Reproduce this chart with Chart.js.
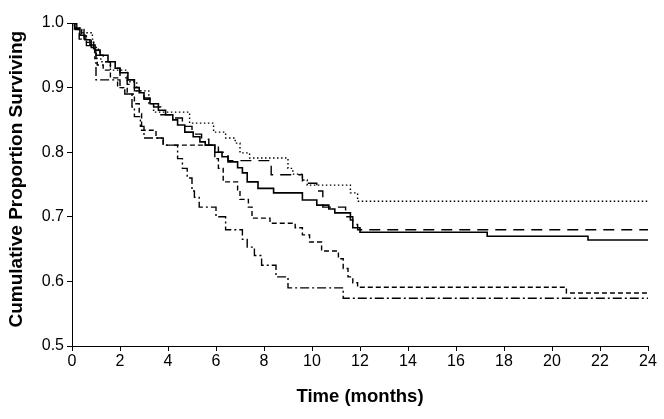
<!DOCTYPE html>
<html>
<head>
<meta charset="utf-8">
<script src="https://cdn.jsdelivr.net/npm/chart.js@4/dist/chart.umd.min.js"></script>
<style>
  body { margin: 0; background: #fff; }
</style>
</head>
<body>
<canvas id="myChart" width="664" height="419"></canvas>
<script>
// Kaplan-Meier curves (time in months, proportion surviving)
const solidTime = [0, 0.12, 0.33, 0.54, 0.75, 0.96, 1.17, 1.5, 1.8, 2.0, 2.33, 2.6, 2.8, 3.0, 3.25, 3.6, 3.9, 4.2, 4.4, 4.7, 5.05, 5.33, 5.55, 5.95, 6.25, 6.5, 6.9, 7.1, 7.3, 7.75, 8.4, 9.6, 10.2, 10.7, 10.95, 11.6, 11.7, 12.0, 17.3, 21.5, 24];
const solidSurv = [1, 0.992, 0.981, 0.974, 0.966, 0.958, 0.95, 0.94, 0.93, 0.923, 0.912, 0.9, 0.892, 0.884, 0.875, 0.865, 0.858, 0.85, 0.842, 0.831, 0.824, 0.816, 0.811, 0.8, 0.793, 0.785, 0.776, 0.768, 0.754, 0.744, 0.737, 0.726, 0.718, 0.712, 0.706, 0.695, 0.683, 0.676, 0.67, 0.664, 0.664];

const longDashTime = [0, 0.2, 0.5, 0.8, 1.0, 1.3, 1.6, 2.0, 2.3, 2.6, 3.0, 3.4, 3.7, 4.1, 4.6, 5.0, 5.4, 5.7, 6.1, 6.5, 8.3, 9.6, 10.2, 10.45, 11.4, 11.7, 11.9, 24];
const longDashSurv = [1, 0.99, 0.975, 0.962, 0.95, 0.94, 0.93, 0.915, 0.905, 0.895, 0.882, 0.87, 0.858, 0.853, 0.84, 0.828, 0.82, 0.811, 0.8, 0.787, 0.765, 0.752, 0.74, 0.715, 0.7, 0.688, 0.68, 0.68];

const dottedTime = [0, 0.1, 0.4, 0.85, 0.9, 1.1, 1.2, 1.6, 2.3, 2.7, 3.2, 3.4, 4.9, 5.9, 6.4, 6.8, 7.0, 7.4, 9.0, 9.2, 9.6, 9.8, 11.6, 11.9, 24];
const dottedSurv = [1, 0.992, 0.985, 0.975, 0.962, 0.955, 0.94, 0.927, 0.909, 0.895, 0.875, 0.862, 0.845, 0.831, 0.822, 0.814, 0.799, 0.791, 0.775, 0.766, 0.757, 0.749, 0.737, 0.724, 0.724];

const shortDashTime = [0, 0.15, 0.4, 0.6, 0.9, 0.95, 1.05, 1.3, 1.6, 1.9, 2.3, 2.6, 2.8, 2.9, 3.5, 3.8, 5.95, 6.1, 6.3, 6.9, 7.0, 7.35, 7.5, 8.25, 9.3, 9.6, 9.9, 10.4, 11.1, 11.3, 11.5, 11.7, 11.9, 20.6, 24];
const shortDashSurv = [1, 0.99, 0.98, 0.97, 0.96, 0.945, 0.935, 0.927, 0.915, 0.9, 0.89, 0.875, 0.86, 0.834, 0.822, 0.811, 0.79, 0.775, 0.754, 0.74, 0.727, 0.715, 0.698, 0.69, 0.683, 0.672, 0.661, 0.647, 0.635, 0.62, 0.607, 0.598, 0.591, 0.582, 0.582];

const dashDotTime = [0, 0.1, 0.3, 0.6, 0.9, 1.0, 2.0, 2.2, 2.5, 2.6, 2.85, 3.0, 3.8, 4.4, 4.6, 4.8, 5.0, 5.1, 5.3, 6.0, 6.4, 7.1, 7.3, 7.6, 7.9, 8.5, 9.0, 11.3, 24];
const dashDotSurv = [1, 0.99, 0.975, 0.965, 0.955, 0.912, 0.9, 0.89, 0.87, 0.855, 0.84, 0.822, 0.811, 0.79, 0.775, 0.76, 0.74, 0.73, 0.715, 0.7, 0.68, 0.665, 0.653, 0.64, 0.625, 0.607, 0.59, 0.574, 0.574];

const yTickLabels = ['0.5', '0.6', '0.7', '0.8', '0.9', '1.0'];

function toPoints(times, surv) {
    return times.map((t, i) => ({ x: t, y: surv[i] }));
}

function makeSet(label, times, surv, dash, width) {
    return {
        label: label,
        data: toPoints(times, surv),
        borderColor: '#000',
        borderWidth: width,
        borderDash: dash,
        stepped: 'before',
        pointRadius: 0,
        fill: false
    };
}

const ctx = document.getElementById('myChart').getContext('2d');
const chart = new Chart(ctx, {
    type: 'line',
    data: {
        datasets: [
            makeSet('Solid', solidTime, solidSurv, [], 1.6),
            makeSet('Long dash', longDashTime, longDashSurv, [11, 7], 1.4),
            makeSet('Dotted', dottedTime, dottedSurv, [1.5, 2.5], 1.4),
            makeSet('Short dash', shortDashTime, shortDashSurv, [5, 3], 1.4),
            makeSet('Dash dot', dashDotTime, dashDotSurv, [9, 3, 2, 3], 1.4)
        ]
    },
    options: {
        responsive: false,
        animation: false,
        devicePixelRatio: 1,
        layout: {
            padding: { top: 23, right: 16, bottom: 0, left: 0 }
        },
        plugins: {
            legend: { display: false },
            tooltip: { enabled: false }
        },
        scales: {
            x: {
                type: 'linear',
                min: 0,
                max: 24,
                afterFit: (scale) => { scale.height = 73; },
                ticks: {
                    stepSize: 2,
                    color: '#000',
                    padding: 1,
                    font: { family: 'Liberation Sans, Arial', size: 16 }
                },
                grid: {
                    drawOnChartArea: false,
                    color: '#000',
                    tickLength: 5
                },
                border: { color: '#000', width: 1 },
                title: {
                    display: true,
                    text: 'Time (months)',
                    color: '#000',
                    padding: { top: 0, bottom: 11 },
                    font: { family: 'Liberation Sans, Arial', size: 18.5, weight: 'bold' }
                }
            },
            y: {
                min: 0.5,
                max: 1.0,
                afterFit: (scale) => { scale.width = 72; },
                ticks: {
                    stepSize: 0.1,
                    color: '#000',
                    padding: 3,
                    font: { family: 'Liberation Sans, Arial', size: 16 },
                    callback: (value, index) => yTickLabels[index]
                },
                grid: {
                    drawOnChartArea: false,
                    color: '#000',
                    tickLength: 5
                },
                border: { color: '#000', width: 1 },
                title: {
                    display: true,
                    text: '  Cumulative Proportion Surviving',
                    color: '#000',
                    padding: { top: 5, bottom: 0 },
                    font: { family: 'Liberation Sans, Arial', size: 19, weight: 'bold' }
                }
            }
        }
    }
});
</script>
</body>
</html>
